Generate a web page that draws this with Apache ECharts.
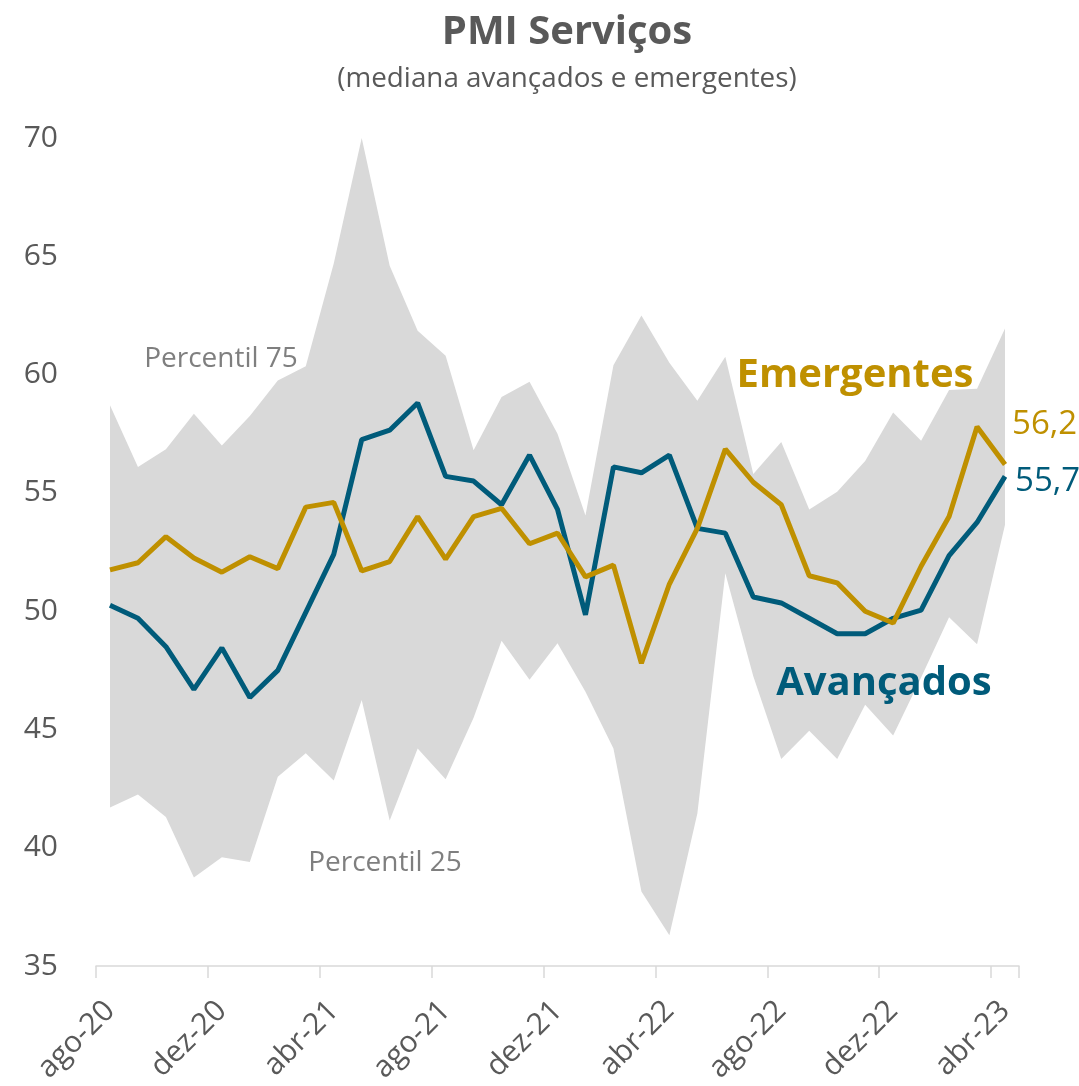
<!DOCTYPE html>
<html>
<head>
<meta charset="utf-8">
<title>PMI Serviços</title>
<script src="https://cdn.jsdelivr.net/npm/echarts@6/dist/echarts.min.js"></script>
<style>
    html, body { margin: 0; padding: 0; background: #fff; }
    #chart { width: 1079px; height: 1086px; }
</style>
</head>
<body>
<div id="chart"></div>
<script>
// meses (ago-20 a abr-23)
var months = ['ago-20', 'set-20', 'out-20', 'nov-20', 'dez-20',
    'jan-21', 'fev-21', 'mar-21', 'abr-21', 'mai-21', 'jun-21', 'jul-21', 'ago-21', 'set-21', 'out-21', 'nov-21', 'dez-21',
    'jan-22', 'fev-22', 'mar-22', 'abr-22', 'mai-22', 'jun-22', 'jul-22', 'ago-22', 'set-22', 'out-22', 'nov-22', 'dez-22',
    'jan-23', 'fev-23', 'mar-23', 'abr-23'];

var percentil75 = [58.7, 56.1, 56.85, 58.35, 57.0, 58.25, 59.75, 60.35, 64.7, 70.0, 64.6, 61.85, 60.8, 56.8, 59.05, 59.7,
    57.5, 54.05, 60.4, 62.5, 60.5, 58.9, 60.75, 55.8, 57.15, 54.3, 55.05, 56.35, 58.4, 57.2, 59.35, 59.4, 61.95];
var percentil25 = [41.7, 42.25, 41.3, 38.75, 39.6, 39.4, 43.0, 44.0, 42.85, 46.25, 41.15, 44.2, 42.9, 45.5, 48.75, 47.1,
    48.65, 46.6, 44.2, 38.15, 36.3, 41.45, 51.6, 47.25, 43.75, 44.95, 43.75, 46.05, 44.75, 47.2, 49.75, 48.6, 53.65];
var avancados = [50.25, 49.7, 48.5, 46.7, 48.45, 46.35, 47.5, 49.95, 52.4, 57.25, 57.65, 58.8, 55.7, 55.5, 54.5, 56.6,
    54.3, 49.85, 56.1, 55.85, 56.6, 53.5, 53.3, 50.6, 50.35, 49.7, 49.05, 49.05, 49.7, 50.05, 52.35, 53.75, 55.7];
var emergentes = [51.75, 52.05, 53.15, 52.25, 51.65, 52.3, 51.8, 54.4, 54.6, 51.7, 52.1, 54.0, 52.2, 54.0, 54.35, 52.85,
    53.3, 51.45, 51.95, 47.8, 51.15, 53.5, 56.85, 55.45, 54.5, 51.5, 51.2, 50.0, 49.5, 51.9, 54.0, 57.8, 56.2];

var FONT = '"Open Sans", sans-serif';
var GREY_TXT = '#595959';
var TEAL = '#005b7a';
var GOLD = '#bf9000';

// faixa entre os percentis (empilhada sobre o percentil 25)
var faixa = percentil75.map(function (v, i) {
    return +(v - percentil25[i]).toFixed(2);
});

function virgula(v) {
    return v.toFixed(1).replace('.', ',');
}

var myChart = echarts.init(document.getElementById('chart'));

var option = {
    animation: false,
    backgroundColor: '#fff',
    textStyle: { fontFamily: FONT },
    grid: { left: 96, right: 60, top: 138, bottom: 118 },
    xAxis: {
        type: 'category',
        data: months,
        boundaryGap: true,
        splitLine: { show: false },
        axisLine: { show: true, lineStyle: { color: '#d9d9d9', width: 1.5 } },
        axisTick: {
            show: true,
            interval: 3,
            length: 12,
            lineStyle: { color: '#d9d9d9', width: 1.5 }
        },
        axisLabel: {
            interval: 3,
            rotate: 45,
            margin: 40,
            fontSize: 30,
            color: GREY_TXT,
            fontFamily: FONT
        }
    },
    yAxis: {
        type: 'value',
        min: 35,
        max: 70,
        interval: 5,
        splitLine: { show: false },
        axisLine: { show: false },
        axisTick: { show: false },
        axisLabel: { fontSize: 30, color: GREY_TXT, margin: 38, fontFamily: FONT }
    },
    series: [{
        name: 'Percentil 25',
        type: 'line',
        stack: 'faixa',
        data: percentil25,
        symbol: 'none',
        lineStyle: { width: 0 },
        areaStyle: { opacity: 0 },
        silent: true
    }, {
        name: 'Faixa',
        type: 'line',
        stack: 'faixa',
        data: faixa,
        symbol: 'none',
        lineStyle: { width: 0 },
        areaStyle: { color: '#d9d9d9', opacity: 1 },
        silent: true
    }, {
        name: 'Avançados',
        type: 'line',
        data: avancados,
        symbol: 'none',
        lineStyle: { color: TEAL, width: 5 },
        endLabel: {
            show: true,
            formatter: function (p) { return virgula(p.value); },
            color: TEAL,
            fontSize: 33,
            fontFamily: FONT,
            offset: [2, 5]
        }
    }, {
        name: 'Emergentes',
        type: 'line',
        data: emergentes,
        symbol: 'none',
        lineStyle: { color: GOLD, width: 5 },
        endLabel: {
            show: true,
            formatter: function (p) { return virgula(p.value); },
            color: GOLD,
            fontSize: 33,
            fontFamily: FONT,
            offset: [-1, -40]
        }
    }],
    graphic: [{
        type: 'text', z: 100,
        x: 567, y: 33,
        style: { text: 'PMI Serviços', font: 'bold 40px ' + FONT, fill: GREY_TXT, align: 'center', verticalAlign: 'middle' }
    }, {
        type: 'text', z: 100,
        x: 567, y: 79,
        style: { text: '(mediana avançados e emergentes)', font: '27.8px ' + FONT, fill: GREY_TXT, align: 'center', verticalAlign: 'middle' }
    }, {
        type: 'text', z: 100,
        x: 221, y: 359,
        style: { text: 'Percentil 75', font: '28px ' + FONT, fill: '#7f7f7f', align: 'center', verticalAlign: 'middle' }
    }, {
        type: 'text', z: 100,
        x: 385, y: 863,
        style: { text: 'Percentil 25', font: '28px ' + FONT, fill: '#7f7f7f', align: 'center', verticalAlign: 'middle' }
    }, {
        type: 'text', z: 100,
        x: 855, y: 376,
        style: { text: 'Emergentes', font: 'bold 40px ' + FONT, fill: GOLD, align: 'center', verticalAlign: 'middle' }
    }, {
        type: 'text', z: 100,
        x: 884, y: 684,
        style: { text: 'Avançados', font: 'bold 40px ' + FONT, fill: TEAL, align: 'center', verticalAlign: 'middle' }
    }]
};

myChart.setOption(option);
</script>
</body>
</html>
